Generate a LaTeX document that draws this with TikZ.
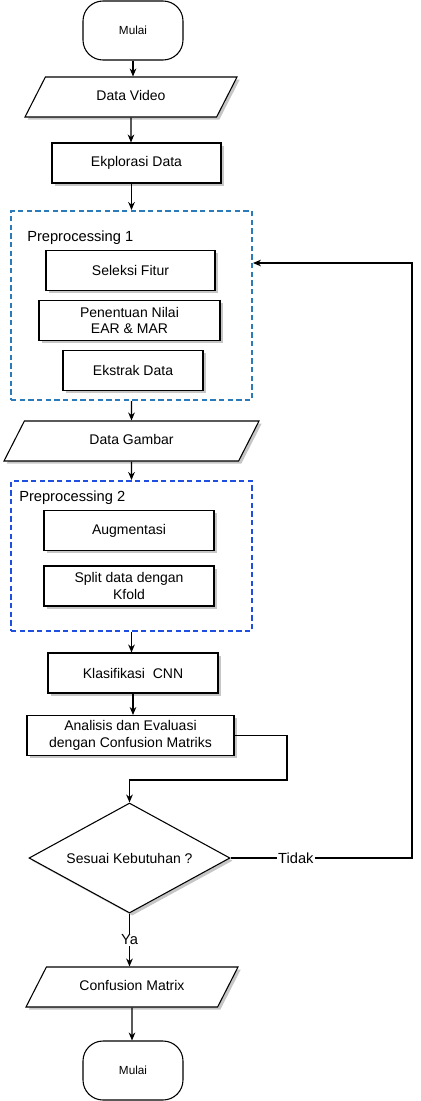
\documentclass[tikz,border=0pt]{standalone}
\usepackage{xcolor}
\usepackage{fontspec}
\setmainfont{Liberation Sans}
\usepackage{tikz}
\usetikzlibrary{arrows.meta,shapes.geometric,shadows}
\definecolor{pre1blue}{HTML}{2B7BBA}
\definecolor{pre2blue}{HTML}{1F4FE0}

\begin{document}
\begin{tikzpicture}[x=0.75pt,y=-0.75pt,
    font=\fontsize{10.5}{12.5}\selectfont,
    boxshadow/.style={drop shadow={shadow xshift=2pt,shadow yshift=-2pt,opacity=0.45}},
    prosesbox/.style={draw=black, line width=0.8pt, fill=white, boxshadow, minimum height=30pt, inner sep=0pt, align=center},
    datashape/.style={trapezium, trapezium left angle=63, trapezium right angle=117, trapezium stretches body, draw=black, line width=0.8pt, fill=white, boxshadow, text height=7.5pt, text depth=2.5pt, inner ysep=10pt, inner xsep=0pt},
    terminal/.style={draw=black, line width=0.8pt, fill=white, rounded corners=15pt, minimum width=75pt, minimum height=44.25pt, font=\fontsize{8.8}{10}\selectfont},
    decision/.style={diamond, aspect=1.8, draw=black, line width=0.8pt, fill=white, boxshadow, minimum width=150.75pt, minimum height=82.5pt, inner sep=0pt},
    prepbox/.style={dash pattern=on 4pt off 2.5pt, line width=1.5pt, inner sep=0pt},
    preplabel/.style={anchor=base west, inner sep=0pt, font=\fontsize{11}{13}\selectfont},
    arr/.style={-{Stealth[length=6pt,width=5pt]}, line width=0.8pt}]
    \useasboundingbox (0,0) rectangle (421,1101);
    \node[terminal] (mulai) at (133,30.5) {Mulai};
    \node[datashape, minimum width=159pt] (video) at (131,97) {Data Video};
    \node[prosesbox, minimum width=126.75pt] (eksplorasi) at (136.5,163) {Ekplorasi Data};
    \node[prepbox, draw=pre1blue, minimum width=180.75pt, minimum height=141.75pt] (prep1) at (131.5,305.5) {};
    \node[preplabel] (prep1label) at (27,241.5) {Preprocessing 1};
    \node[prosesbox, minimum width=126.75pt] (seleksi) at (130.5,270.5) {Seleksi Fitur};
    \node[prosesbox, minimum width=135.75pt] (nilai) at (129.5,320.5) {Penentuan Nilai\\EAR \& MAR};
    \node[prosesbox, minimum width=105pt] (ekstrak) at (133,370.5) {Ekstrak Data};
    \node[datashape, minimum width=191.25pt] (gambar) at (131.5,441) {Data Gambar};
    \node[prepbox, draw=pre2blue, minimum width=180.75pt, minimum height=112.5pt] (prep2) at (131.5,556) {};
    \node[preplabel] (prep2label) at (19,501.5) {Preprocessing 2};
    \node[prosesbox, minimum width=127.5pt] (augmentasi) at (129,530.5) {Augmentasi};
    \node[prosesbox, minimum width=127.5pt] (split) at (129,586) {Split data dengan\\Kfold};
    \node[prosesbox, minimum width=127.5pt] (klasifikasi) at (133,673) {Klasifikasi\ \ CNN};
    \node[prosesbox, minimum width=155.25pt] (analisis) at (130.5,735.5) {Analisis dan Evaluasi\\dengan Confusion Matriks};
    \node[decision] (sesuai) at (129.5,858) {Sesuai Kebutuhan ?};
    \node[datashape, minimum width=159pt] (confusion) at (132,987) {Confusion Matrix};
    \node[terminal] (selesai) at (133,1070.5) {Mulai};
    \coordinate (belok) at (287,780);
    \coordinate (balik) at (412,263);
    \path [arr] (mulai) edge (mulai |- video.north);
    \path [arr] (video) edge (video |- eksplorasi.north);
    \path [arr] (eksplorasi.south -| prep1) edge (prep1.north);
    \path [arr] (prep1) edge (gambar);
    \path [arr] (gambar) edge (prep2);
    \path [arr] (prep2) edge (prep2 |- klasifikasi.north);
    \path [arr] (klasifikasi) edge (klasifikasi |- analisis.north);
    \draw [arr] (analisis.east) -| (belok) -| (sesuai.north);
    \path [arr] (sesuai) edge node[fill=white, inner sep=1pt, font=\fontsize{11}{13}\selectfont] {Ya} (sesuai |- confusion.north);
    \path [arr] (confusion) edge (confusion |- selesai.north);
    \draw [arr] (sesuai.east) -- node[pos=0.36, fill=white, inner sep=1pt, font=\fontsize{11}{13}\selectfont] {Tidak} (sesuai.east -| balik) -- (balik) -- (balik -| prep1.east);
\end{tikzpicture}
\end{document}
